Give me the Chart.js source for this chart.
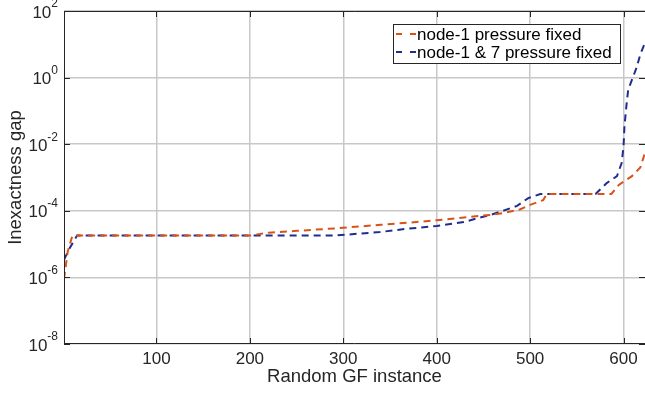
<!DOCTYPE html>
<html>
<head>
<meta charset="utf-8">
<script src="https://cdn.jsdelivr.net/npm/chart.js@4/dist/chart.umd.min.js"></script>
<style>
  html, body { margin: 0; padding: 0; background: #fff; }
  canvas { display: block; }
</style>
</head>
<body>
<canvas id="myChart" width="645" height="394"></canvas>
<script>
// data
const seriesNames = ['node-1 pressure fixed', 'node-1 & 7 pressure fixed'];

const xOrange = [1, 5, 10, 200, 220, 250, 294, 340, 370, 400, 444, 458, 471, 489, 500, 514, 518, 587, 595, 609, 618, 623];
const yOrange = [9e-7, 6e-6, 1.8e-5, 1.8e-5, 2.2e-5, 2.5e-5, 3e-5, 3.8e-5, 4.4e-5, 5.2e-5, 7e-5, 7.5e-5, 8.5e-5, 1.1e-4, 1.5e-4, 2.1e-4, 3.2e-4, 3.2e-4, 6e-4, 1.1e-3, 2e-3, 5.5e-3];

const xBlue = [1, 7, 15, 290, 339, 369, 400, 429, 444, 458, 471, 486, 498, 511, 570, 582, 593, 598, 600, 601, 603, 605, 609, 614, 618, 623];
const yBlue = [3.4e-6, 7.5e-6, 1.8e-5, 1.8e-5, 2.3e-5, 2.9e-5, 3.5e-5, 4.6e-5, 6e-5, 7.6e-5, 1e-4, 1.4e-4, 2.4e-4, 3.2e-4, 3.2e-4, 6.8e-4, 1.1e-3, 2.7e-3, 8.5e-3, 0.034, 0.135, 0.43, 0.85, 2, 5, 11];

const xTicks = [100, 200, 300, 400, 500, 600];
const yExponents = [-8, -6, -4, -2, 0, 2];

const colors = ['#D95319', '#1F2D8F'];
const FONT = '"Liberation Sans", Arial, Helvetica, sans-serif';
const TEXT = '#262626';
const GRID = '#c8c8c8';

function points(xs, ys) {
    return xs.map((x, i) => ({ x: x, y: ys[i] }));
}

const matlabAxes = {
    id: 'matlabAxes',
    afterDraw(chart) {
        const c = chart.ctx;
        const a = chart.chartArea;
        const xs = chart.scales.x;
        const ys = chart.scales.y;
        c.save();

        // box (right side falls outside the picture)
        c.strokeStyle = TEXT;
        c.lineWidth = 1;
        c.beginPath();
        c.moveTo(a.left + 0.5, a.bottom);
        c.lineTo(a.left + 0.5, a.top + 0.5);
        c.lineTo(a.right, a.top + 0.5);
        c.moveTo(a.left, a.bottom - 0.5);
        c.lineTo(a.right, a.bottom - 0.5);
        c.stroke();

        // inward ticks
        c.beginPath();
        xTicks.forEach(v => {
            const px = Math.round(xs.getPixelForValue(v)) + 0.5;
            c.moveTo(px, a.bottom); c.lineTo(px, a.bottom - 6);
            c.moveTo(px, a.top); c.lineTo(px, a.top + 6);
        });
        yExponents.forEach(e => {
            const py = Math.round(ys.getPixelForValue(Math.pow(10, e))) + 0.5;
            c.moveTo(a.left, py); c.lineTo(a.left + 6, py);
            c.moveTo(a.right, py); c.lineTo(a.right - 6, py);
        });
        c.stroke();

        // y tick labels 10^e
        c.fillStyle = TEXT;
        c.textBaseline = 'middle';
        c.textAlign = 'left';
        yExponents.forEach(e => {
            const py = ys.getPixelForValue(Math.pow(10, e));
            const ex = String(e);
            c.font = '12px ' + FONT;
            const we = c.measureText(ex).width;
            c.font = '17px ' + FONT;
            const wb = c.measureText('10').width;
            const right = 58;
            c.fillText('10', right - we - wb, py + 2);
            c.font = '12px ' + FONT;
            c.fillText(ex, right - we, py - 7);
        });

        // axis titles
        c.font = '18.5px ' + FONT;
        c.textAlign = 'center';
        c.fillText('Random GF instance', (a.left + a.right) / 2, 377);
        c.save();
        c.translate(16, (a.top + a.bottom) / 2);
        c.rotate(-Math.PI / 2);
        c.fillText('Inexactness gap', 0, 0);
        c.restore();

        // legend
        const lx = 393, ly = 24, lw = 227, lh = 39;
        c.fillStyle = '#fff';
        c.fillRect(lx, ly, lw, lh);
        c.strokeStyle = TEXT;
        c.lineWidth = 1;
        c.strokeRect(lx + 0.5, ly + 0.5, lw, lh);
        c.font = '17px ' + FONT;
        c.textAlign = 'left';
        seriesNames.forEach((name, i) => {
            const cy = 34 + i * 18;
            c.strokeStyle = colors[i];
            c.lineWidth = 2;
            c.beginPath();
            c.moveTo(396, cy); c.lineTo(402, cy);
            c.moveTo(410, cy); c.lineTo(416, cy);
            c.stroke();
            c.fillStyle = '#000';
            c.fillText(name, 417, cy + 1);
        });

        c.restore();
    }
};

new Chart(document.getElementById('myChart'), {
    type: 'line',
    data: {
        datasets: [
            {
                label: seriesNames[0],
                data: points(xOrange, yOrange),
                borderColor: colors[0],
                borderWidth: 2,
                borderDash: [7, 5],
                pointRadius: 0,
                tension: 0,
                fill: false
            },
            {
                label: seriesNames[1],
                data: points(xBlue, yBlue),
                borderColor: colors[1],
                borderWidth: 2,
                borderDash: [7, 5],
                pointRadius: 0,
                tension: 0,
                fill: false
            }
        ]
    },
    options: {
        responsive: false,
        animation: false,
        devicePixelRatio: 1,
        layout: { padding: { top: 11, right: 0, left: 0, bottom: 0 } },
        plugins: { legend: { display: false }, tooltip: { enabled: false } },
        scales: {
            x: {
                type: 'linear',
                min: 1,
                max: 623,
                afterBuildTicks: s => { s.ticks = xTicks.map(v => ({ value: v })); },
                afterFit: s => { s.height = 50; },
                grid: { color: GRID, lineWidth: 1.5, drawTicks: false },
                border: { display: false },
                ticks: {
                    color: TEXT,
                    font: { family: FONT, size: 17 },
                    padding: 5,
                    maxRotation: 0,
                    autoSkip: false
                }
            },
            y: {
                type: 'logarithmic',
                min: 1e-8,
                max: 1e2,
                afterBuildTicks: s => { s.ticks = yExponents.map(e => ({ value: Math.pow(10, e) })); },
                afterFit: s => { s.width = 64; },
                grid: { color: GRID, lineWidth: 1.5, drawTicks: false },
                border: { display: false },
                ticks: { display: true, callback: () => '', font: { size: 1 } }
            }
        }
    },
    plugins: [matlabAxes]
});
</script>
</body>
</html>
